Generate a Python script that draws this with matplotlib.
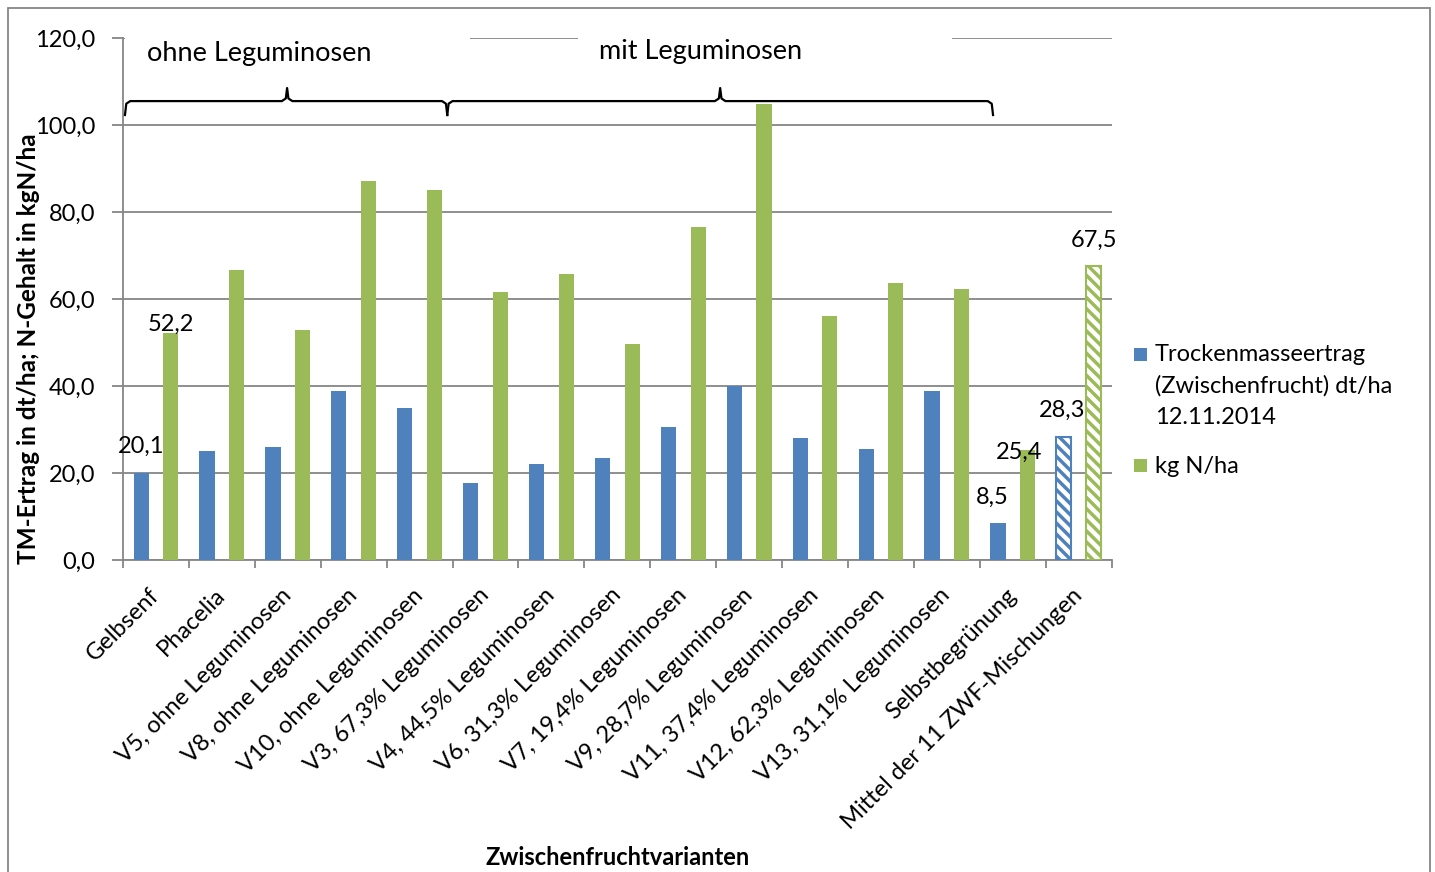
import numpy as np
import matplotlib.pyplot as plt
from matplotlib.patches import Rectangle
from matplotlib import transforms

plt.rcParams['font.family'] = ['Lato', 'DejaVu Sans']
plt.rcParams['hatch.linewidth'] = 2.5

categories = ['Gelbsenf', 'Phacelia', 'V5, ohne Leguminosen', 'V8, ohne Leguminosen',
              'V10, ohne Leguminosen', 'V3, 67,3% Leguminosen', 'V4, 44,5% Leguminosen',
              'V6, 31,3% Leguminosen', 'V7, 19,4% Leguminosen', 'V9, 28,7% Leguminosen',
              'V11, 37,4% Leguminosen', 'V12, 62,3% Leguminosen', 'V13, 31,1% Leguminosen',
              'Selbstbegrünung', 'Mittel der 11 ZWF-Mischungen']
tm_ertrag = [20.1, 25.0, 26.0, 38.9, 35.0, 17.7, 22.1, 23.4, 30.6, 40.0, 28.0, 25.5, 38.9, 8.5, 28.3]
kg_n = [52.2, 66.7, 52.9, 87.1, 85.1, 61.6, 65.7, 49.7, 76.6, 104.8, 56.1, 63.7, 62.3, 25.4, 67.5]
legend_labels = ['Trockenmasseertrag\n(Zwischenfrucht) dt/ha\n12.11.2014', 'kg N/ha']
labelled = [0, 13, 14]  # categories with value labels

blue = '#4F81BD'
green = '#9BBB59'
grey = '#868686'
fs = 17

fig = plt.figure(figsize=(14.35, 8.72), dpi=100)
ax = fig.add_axes([0.0857, 0.3578, 0.689, 0.5986])

x = np.arange(len(categories))
w = 0.23
b1 = ax.bar(x - 0.225, tm_ertrag, w, color=blue, zorder=3)
b2 = ax.bar(x + 0.225, kg_n, w, color=green, zorder=3)

# mean of the mixtures shown hatched
for bars, c in ((b1, blue), (b2, green)):
    p = bars[-1]
    p.set_facecolor('white')
    p.set_edgecolor(c)
    p.set_hatch('\\\\\\')
    p.set_linewidth(1.5)

# value labels
offsets_blue = {0: (0, 26), 13: (-6, 26), 14: (-2, 27)}
offsets_green = {0: (0, 9), 13: (-9, -3), 14: (0, 26)}
for i in labelled:
    ax.annotate(f'{tm_ertrag[i]:.1f}'.replace('.', ','), (x[i] - 0.225, tm_ertrag[i]),
                xytext=offsets_blue[i], textcoords='offset pixels',
                ha='center', va='center', fontsize=fs, zorder=6)
    ax.annotate(f'{kg_n[i]:.1f}'.replace('.', ','), (x[i] + 0.225, kg_n[i]),
                xytext=offsets_green[i], textcoords='offset pixels',
                ha='center', va='center', fontsize=fs, zorder=6)

ax.set_xlim(-0.5, len(categories) - 0.5)
ax.set_ylim(0, 120)
ax.set_yticks(np.arange(0, 121, 20))
ax.set_yticklabels([f'{v:.1f}'.replace('.', ',') for v in np.arange(0, 121, 20)], fontsize=fs)
ax.yaxis.grid(True, color=grey, lw=1.3, zorder=0)
ax.set_axisbelow(True)

ax.set_xticks(np.arange(-0.5, len(categories), 1))
ax.set_xticklabels([])
ax.set_xticks(x, minor=True)
ax.set_xticklabels(categories, minor=True, rotation=45, ha='right', va='center',
                   rotation_mode='anchor', fontsize=fs)
shift = transforms.ScaledTranslation(10 / 100, 0, fig.dpi_scale_trans)
for lbl in ax.get_xticklabels(minor=True):
    lbl.set_transform(lbl.get_transform() + shift)
ax.tick_params(axis='x', which='minor', length=0, pad=23)
ax.tick_params(axis='x', which='major', length=6, color=grey, width=1.3)
ax.tick_params(axis='y', length=8, color=grey, width=1.3, pad=12)

for s in ('top', 'right'):
    ax.spines[s].set_visible(False)
for s in ('left', 'bottom'):
    ax.spines[s].set_color(grey)
    ax.spines[s].set_linewidth(1.3)

ax.set_xlabel('Zwischenfruchtvarianten', fontsize=fs, fontweight='bold')
ax.xaxis.set_label_coords(0.5, -0.548)
ax.set_ylabel('TM-Ertrag in dt/ha; N-Gehalt in kgN/ha', fontsize=fs + 0.5, fontweight='bold')
ax.yaxis.set_label_coords(-0.084, 0.404)

# group headings on white boxes over the top gridline
ax.add_patch(Rectangle((-0.47, 110), 5.24, 12, facecolor='white', edgecolor='none',
                       zorder=4, clip_on=False))
ax.add_patch(Rectangle((6.4, 110), 5.68, 12, facecolor='white', edgecolor='none',
                       zorder=4, clip_on=False))
ax.text(1.56, 116.5, 'ohne Leguminosen', ha='center', va='center', fontsize=19.5, zorder=5)
ax.text(8.26, 117, 'mit Leguminosen', ha='center', va='center', fontsize=19.5, zorder=5)


def brace(x0, x1, xm, y0=102.3, y1=105.5, y2=108.5):
    xs = [x0, x0 + 0.02, x0 + 0.08, xm - 0.08, xm - 0.02, xm, xm + 0.02, xm + 0.08,
          x1 - 0.08, x1 - 0.02, x1]
    ys = [y0, y1 - 0.6, y1, y1, y1 + 0.6, y2, y1 + 0.6, y1, y1, y1 - 0.6, y0]
    ax.plot(xs, ys, color='black', lw=1.6, zorder=5, clip_on=False)


brace(-0.47, 4.42, 1.99)
brace(4.42, 12.7, 8.56)

# legend: square key aligned with the first line of each entry
key_y = [354, 466]
for c, lab, ky in zip((blue, green), legend_labels, key_y):
    fig.add_artist(Rectangle((1134 / 1435, 1 - (ky + 6.5) / 872), 13 / 1435, 13 / 872,
                             transform=fig.transFigure, facecolor=c, edgecolor='none'))
    fig.text(1155 / 1435, 1 - (ky - 10) / 872, lab, ha='left', va='top',
             fontsize=fs, linespacing=1.6)

# outer chart frame
fig.add_artist(Rectangle((8 / 1435, -0.01), 1422 / 1435, 1 - 8 / 872 + 0.01,
                         transform=fig.transFigure, fill=False, edgecolor=grey, lw=1.3))

fig.savefig('out.png', dpi=100)
